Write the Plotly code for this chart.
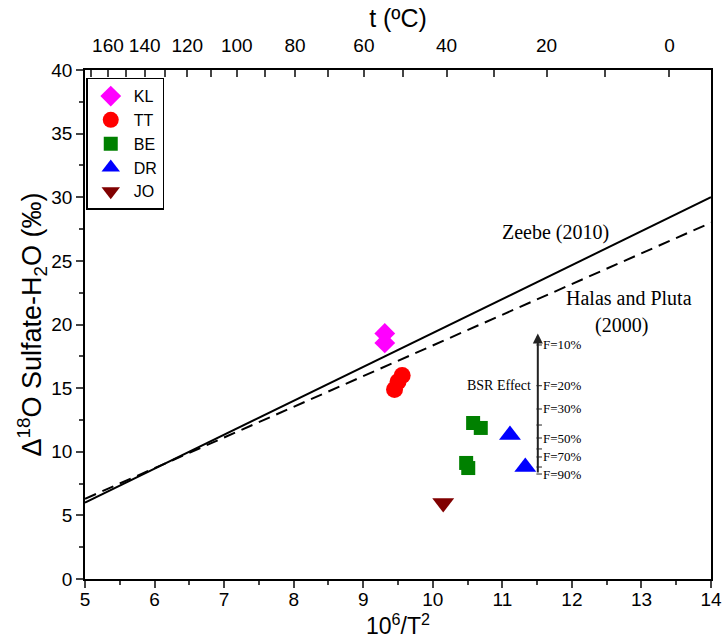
import plotly.graph_objects as go

# ---- data ----
kl_x = [9.31, 9.31]
kl_y = [19.3, 18.55]
tt_x = [9.56, 9.50, 9.45]
tt_y = [16.0, 15.5, 14.9]
be_x = [10.58, 10.69, 10.48, 10.51]
be_y = [12.26, 11.87, 9.12, 8.72]
dr_x = [11.11, 11.33]
dr_y = [11.32, 8.8]
jo_x = [10.15]
jo_y = [5.97]

zeebe_x = [5, 14]
zeebe_y = [6.0, 30.0]
halas_x = [5, 14]
halas_y = [6.3, 28.0]

top_t_ticks = [170, 160, 150, 140, 130, 120, 110, 100, 90, 80, 70, 60, 50, 40, 30, 20, 10, 0]
top_t_labels = ["", "160", "", "140", "", "120", "", "100", "", "80", "", "60", "", "40", "", "20", "", "0"]

bsr_x = 11.51
bsr_bottom = 8.25
bsr_top = 19.3
bsr_tick_y = [18.39, 15.19, 13.36, 12.1, 11.08, 10.22, 9.59, 8.8, 8.25]
bsr_tick_labels = ["F=10%", "F=20%", "F=30%", "", "F=50%", "", "F=70%", "", "F=90%"]

SANS = "Liberation Sans, Arial, sans-serif"
SERIF = "Liberation Serif, Times New Roman, serif"

fig = go.Figure()

fig.add_trace(go.Scatter(x=zeebe_x, y=zeebe_y, mode="lines", line=dict(color="black", width=2),
                         showlegend=False, hoverinfo="skip"))
fig.add_trace(go.Scatter(x=halas_x, y=halas_y, mode="lines", xaxis="x2",
                         line=dict(color="black", width=2, dash="12px,7px"),
                         showlegend=False, hoverinfo="skip"))

series = [
    ("KL", kl_x, kl_y, "diamond", "#FF00FF", 16),
    ("TT", tt_x, tt_y, "circle", "#FF0000", 17),
    ("BE", be_x, be_y, "square", "#008000", 14),
    ("DR", dr_x, dr_y, "triangle-up", "#0000FF", 19),
    ("JO", jo_x, jo_y, "triangle-down", "#800000", 19),
]
for name, xs, ys, sym, col, sz in series:
    fig.add_trace(go.Scatter(x=xs, y=ys, mode="markers", name=name,
                             marker=dict(symbol=sym, color=col, size=sz, line=dict(width=0))))

annotations = []
shapes = []

# BSR arrow axis
annotations.append(dict(x=bsr_x, y=bsr_top, ax=bsr_x, ay=bsr_bottom, xref="x", yref="y",
                        axref="x", ayref="y", text="", showarrow=True, arrowhead=2,
                        arrowsize=1, arrowwidth=2, arrowcolor="#222"))
for ty, lab in zip(bsr_tick_y, bsr_tick_labels):
    shapes.append(dict(type="line", xref="x", yref="y", x0=bsr_x - 0.02, x1=bsr_x + 0.06,
                       y0=ty, y1=ty, line=dict(color="#222", width=1)))
    if lab:
        annotations.append(dict(x=bsr_x + 0.05, y=ty, xref="x", yref="y", text=lab,
                                showarrow=False, xanchor="left", yanchor="middle",
                                font=dict(family=SERIF, size=13, color="black")))
annotations.append(dict(x=bsr_x - 0.07, y=bsr_tick_y[1], xref="x", yref="y", text="BSR Effect",
                        showarrow=False, xanchor="right", yanchor="middle",
                        font=dict(family=SERIF, size=14, color="black")))

annotations.append(dict(x=11.77, y=27.2, xref="x", yref="y", text="Zeebe (2010)", showarrow=False,
                        font=dict(family=SERIF, size=20, color="black")))
annotations.append(dict(x=12.82, y=22.1, xref="x", yref="y", text="Halas and Pluta", showarrow=False,
                        font=dict(family=SERIF, size=20, color="black")))
annotations.append(dict(x=12.72, y=19.95, xref="x", yref="y", text="(2000)", showarrow=False,
                        font=dict(family=SERIF, size=20, color="black")))

top_tickvals = [1e6 / (t + 273.15) ** 2 for t in top_t_ticks]

fig.update_layout(
    width=722, height=640,
    margin=dict(l=85, r=11, t=70, b=61, autoexpand=False),
    paper_bgcolor="white", plot_bgcolor="white",
    font=dict(family=SANS, color="black"),
    xaxis=dict(range=[5, 14], tickmode="linear", tick0=5, dtick=1, ticks="outside",
               ticklen=7, tickwidth=1.5, showline=True, linewidth=1.5, linecolor="black",
               showgrid=False, zeroline=False, tickfont=dict(size=19), automargin=False,
               ticklabelstandoff=-5,
               minor=dict(dtick=0.5, ticks="outside", ticklen=4, tickwidth=1.5, showgrid=False),
               title=dict(text="10<sup>6</sup>/T<sup>2</sup>", font=dict(size=23), standoff=4)),
    xaxis2=dict(range=[5, 14], overlaying="x", side="top", tickmode="array",
                tickvals=top_tickvals, ticktext=top_t_labels, ticks="inside", ticklen=7,
                tickwidth=1.5, showline=True, linewidth=1.5, linecolor="black", automargin=False,
                showgrid=False, zeroline=False, tickfont=dict(size=19), ticklabelstandoff=9,
                title=dict(text="t (ºC)", font=dict(size=25), standoff=0)),
    yaxis=dict(range=[0, 40], tickmode="linear", tick0=0, dtick=5, ticks="outside",
               ticklen=7, tickwidth=1.5, showline=True, linewidth=1.5, linecolor="black",
               mirror=True, showgrid=False, zeroline=False, tickfont=dict(size=19), automargin=False,
               minor=dict(dtick=2.5, ticks="outside", ticklen=4, tickwidth=1.5, showgrid=False),
               title=dict(text="Δ<sup>18</sup>O Sulfate-H<sub>2</sub>O (‰)", font=dict(size=27),
                          standoff=2)),
    legend=dict(x=0.002, y=0.985, xanchor="left", yanchor="top", bgcolor="white",
                bordercolor="black", borderwidth=1.5, font=dict(size=16),
                itemsizing="trace", itemwidth=36, tracegroupgap=0),
    annotations=annotations, shapes=shapes,
    showlegend=True,
)

fig.write_html("out.html")
